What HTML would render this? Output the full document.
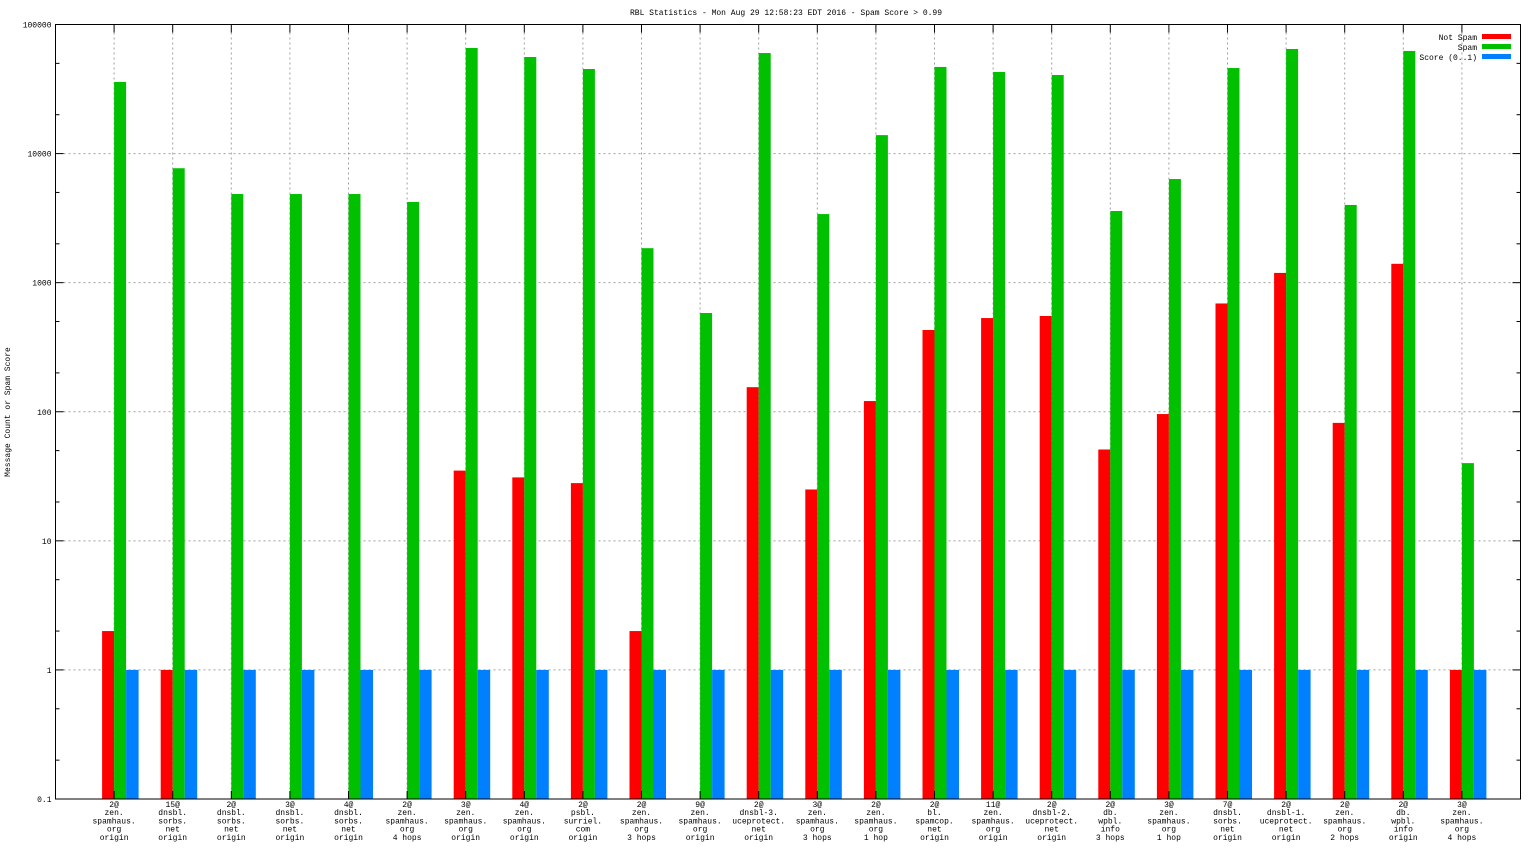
<!DOCTYPE html>
<html><head><meta charset="utf-8"><style>
body{margin:0;background:#fff;}
svg{display:block;font-family:"Liberation Mono","DejaVu Sans Mono",monospace;font-size:8px;}
</style></head><body>
<svg id="chart" width="1536" height="864" viewBox="0 0 1536 864">
<text x="786" y="15" text-anchor="middle">RBL Statistics - Mon Aug 29 12:58:23 EDT 2016 - Spam Score &gt; 0.99</text>
<text transform="translate(10,412) rotate(-90)" text-anchor="middle">Message Count or Spam Score</text>
<g id="grid"></g><g id="bars"></g><g id="axes"></g>
<g>
<text x="1477" y="40" text-anchor="end">Not Spam</text>
<rect x="1482" y="34" width="29" height="5" fill="#ff0000"/>
<text x="1477" y="50" text-anchor="end">Spam</text>
<rect x="1482" y="44" width="29" height="5" fill="#00c000"/>
<text x="1477" y="60" text-anchor="end">Score (0..1)</text>
<rect x="1482" y="54" width="29" height="5" fill="#0080ff"/>
</g>
</svg>
<script>
const categories=[
["2@","zen.","spamhaus.","org","origin"],["15@","dnsbl.","sorbs.","net","origin"],["2@","dnsbl.","sorbs.","net","origin"],["3@","dnsbl.","sorbs.","net","origin"],["4@","dnsbl.","sorbs.","net","origin"],["2@","zen.","spamhaus.","org","4 hops"],["3@","zen.","spamhaus.","org","origin"],["4@","zen.","spamhaus.","org","origin"],["2@","psbl.","surriel.","com","origin"],["2@","zen.","spamhaus.","org","3 hops"],["9@","zen.","spamhaus.","org","origin"],["2@","dnsbl-3.","uceprotect.","net","origin"],["3@","zen.","spamhaus.","org","3 hops"],["2@","zen.","spamhaus.","org","1 hop"],["2@","bl.","spamcop.","net","origin"],["11@","zen.","spamhaus.","org","origin"],["2@","dnsbl-2.","uceprotect.","net","origin"],["2@","db.","wpbl.","info","3 hops"],["3@","zen.","spamhaus.","org","1 hop"],["7@","dnsbl.","sorbs.","net","origin"],["2@","dnsbl-1.","uceprotect.","net","origin"],["2@","zen.","spamhaus.","org","2 hops"],["2@","db.","wpbl.","info","origin"],["3@","zen.","spamhaus.","org","4 hops"]];
const notSpam=[2,1,null,null,null,null,35,31,28,2,null,155,25,121,430,532,552,51,96,690,1190,82,1400,1];
const spam=[35900,7700,4860,4860,4860,4220,65800,56000,45200,1850,582,60100,3400,13900,46900,42900,40600,3590,6350,46000,64600,4000,62400,40];
const score=[1,1,1,1,1,1,1,1,1,1,1,1,1,1,1,1,1,1,1,1,1,1,1,1];
const yTicks=[0.1,1,10,100,1000,10000,100000];
const yTickLabels=["0.1","1","10","100","1000","10000","100000"];

const L=55.5,R=1520.5,T=24.5,B=799;
const NS="http://www.w3.org/2000/svg";
const step=(R-L)/(categories.length+1);
function xPos(i){return L+(i+1)*step;}
function yPos(v){const lo=Math.log10(0.1),hi=Math.log10(100000);return B-(Math.log10(v)-lo)/(hi-lo)*(B-T);}
function mk(tag,attrs,parent){const e=document.createElementNS(NS,tag);for(const k in attrs)e.setAttribute(k,attrs[k]);parent.appendChild(e);return e;}
const grid=document.getElementById('grid'),bars=document.getElementById('bars'),axes=document.getElementById('axes');
// y grid & ticks
yTicks.forEach((v,k)=>{const y=yPos(v);
 if(k>0&&k<yTicks.length-1){const g=mk('line',{x1:L+8,x2:R-8,y1:y,y2:y,stroke:'#a0a0a0','stroke-dasharray':'2,3'},grid);
 
 }
 mk('line',{x1:L,x2:L+8,y1:y,y2:y,stroke:'#000'},axes);mk('line',{x1:R,x2:R-8,y1:y,y2:y,stroke:'#000'},axes);
 const t=mk('text',{x:L-4,y:y+3,'text-anchor':'end'},axes);t.textContent=yTickLabels[k];
 
 
 if(k<yTicks.length-1){[2,5].forEach(m=>{const yy=yPos(v*m);mk('line',{x1:L,x2:L+4,y1:yy,y2:yy,stroke:'#000'},axes);mk('line',{x1:R,x2:R-4,y1:yy,y2:yy,stroke:'#000'},axes);});}
});
categories.forEach((c,i)=>{const x=xPos(i);
 const g=mk('line',{x1:x,x2:x,y1:T+8,y2:B-8,stroke:'#a0a0a0','stroke-dasharray':'2,3'},grid);
 
 
 mk('line',{x1:x,x2:x,y1:B,y2:B-8,stroke:'#000'},axes);mk('line',{x1:x,x2:x,y1:T,y2:T+8,stroke:'#000'},axes);
 c.forEach((ln,j)=>{const t=mk('text',{x:x,y:807+j*8.2,'text-anchor':'middle'},axes);t.textContent=ln;
  
  });
 const series=[[notSpam[i],'#ff0000',x-12,12,'bar-not-spam'],[spam[i],'#00c000',x,12,'bar-spam'],[score[i],'#0080ff',x+12,12.5,'bar-score']];
 series.forEach(s=>{if(s[0]==null||s[0]<=0)return;const y=yPos(s[0]);
  const r=mk('rect',{x:s[2],y:y,width:s[3],height:B-y,fill:s[1]},bars);
  
  });
});
const fr=mk('rect',{x:L,y:T,width:R-L,height:B-T,fill:'none',stroke:'#000'},axes);


</script>
</body></html>
